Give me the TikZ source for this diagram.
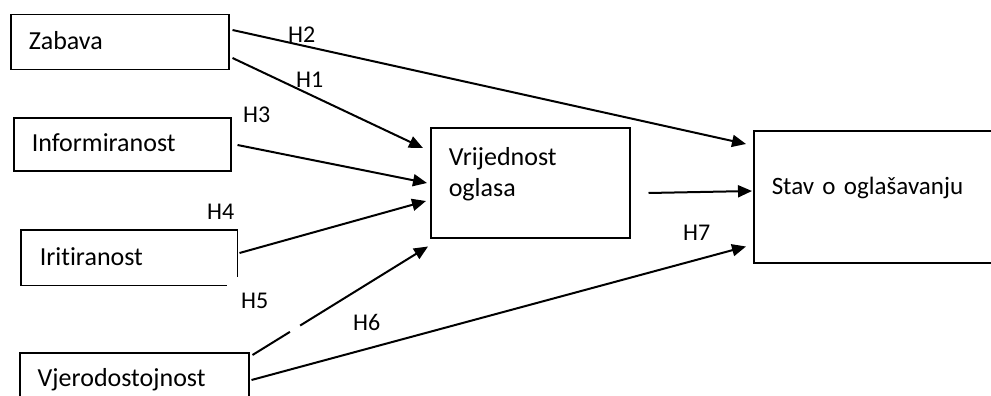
\documentclass[tikz,border=0pt]{standalone}
\usepackage{fontspec}
\setmainfont{Carlito}[Ligatures=NoCommon]
\usetikzlibrary{arrows.meta}

\tikzset{
  varbox/.style={rectangle, anchor=north west, align=left, text width=#1,
    inner xsep=18pt, inner ysep=0pt, text height=15pt, text depth=0pt, line width=1.5pt},
  hyp/.style={->, >={Triangle[length=14pt,width=12pt]}, line width=2pt},
  hlabel/.style={anchor=base west, inner sep=0pt, font=\fontsize{24pt}{29pt}\selectfont}
}

\begin{document}
\begin{tikzpicture}[x=1pt, y=-1pt, font=\fontsize{26pt}{31pt}\selectfont]
  \useasboundingbox (0,0) rectangle (991,396);

  % Define nodes
  \node[varbox=182pt, draw, minimum height=55pt] (zab) at (10,14) {Zabava};
  \node[varbox=181pt, draw, minimum height=53pt] (inf) at (13,117) {Informiranost};
  \node[varbox=179pt, minimum height=54pt] (irit) at (21,230) {Iritiranost};
  \node[varbox=193pt, draw, minimum height=53pt] (vjer) at (19,352) {Vjerodostojnost};
  \node[varbox=163pt, draw, minimum height=110pt, text depth=49pt] (vri) at (430,127) {Vrijednost\\oglasa};
  \node[varbox=212pt, draw, minimum height=132pt, text depth=20pt, font=\fontsize{25pt}{31pt}\selectfont] (stav) at (753,130) {Stav o oglašavanju};

  % Iritiranost box, corner left open
  \draw[line width=1.5pt] ([yshift=9pt]irit.south east) -- (irit.north east) -- (irit.north west)
    -- (irit.south west) -- ([xshift=-11pt]irit.south east);

  % Labels
  \node[hlabel] (h1) at (296,88) {H1};
  \node[hlabel] (h2) at (288,43) {H2};
  \node[hlabel] (h3) at (243,122) {H3};
  \node[hlabel] (h4) at (207,219) {H4};
  \node[hlabel] (h5) at (241,308) {H5};
  \node[hlabel] (h6) at (353,330) {H6};
  \node[hlabel] (h7) at (683,240) {H7};

  % Connect the nodes
  \draw[hyp] ([xshift=3pt,yshift=-16pt]zab.north east) -- ([xshift=-7pt,yshift=-14pt]stav.north west);
  \draw[hyp] ([xshift=3pt,yshift=-44pt]zab.north east) -- ([xshift=-7pt,yshift=-21pt]vri.north west);
  \draw[hyp] ([xshift=6pt,yshift=-28pt]inf.north east) -- ([xshift=-3pt,yshift=-56pt]vri.north west);
  \draw[hyp] ([xshift=2pt,yshift=-23pt]irit.north east) -- ([xshift=-4pt,yshift=-74pt]vri.north west);
  \draw[hyp, dash pattern=on 44pt off 12pt on 400pt] ([xshift=3pt,yshift=-3pt]vjer.north east) -- ([xshift=-2pt,yshift=-8pt]vri.south west);
  \draw[hyp] ([xshift=2pt,yshift=-28pt]vjer.north east) -- ([xshift=-7pt,yshift=17pt]stav.south west);
  \draw[hyp] ([xshift=18pt,yshift=-66pt]vri.north east) -- ([xshift=-1pt,yshift=-61pt]stav.north west);

\end{tikzpicture}
\end{document}
